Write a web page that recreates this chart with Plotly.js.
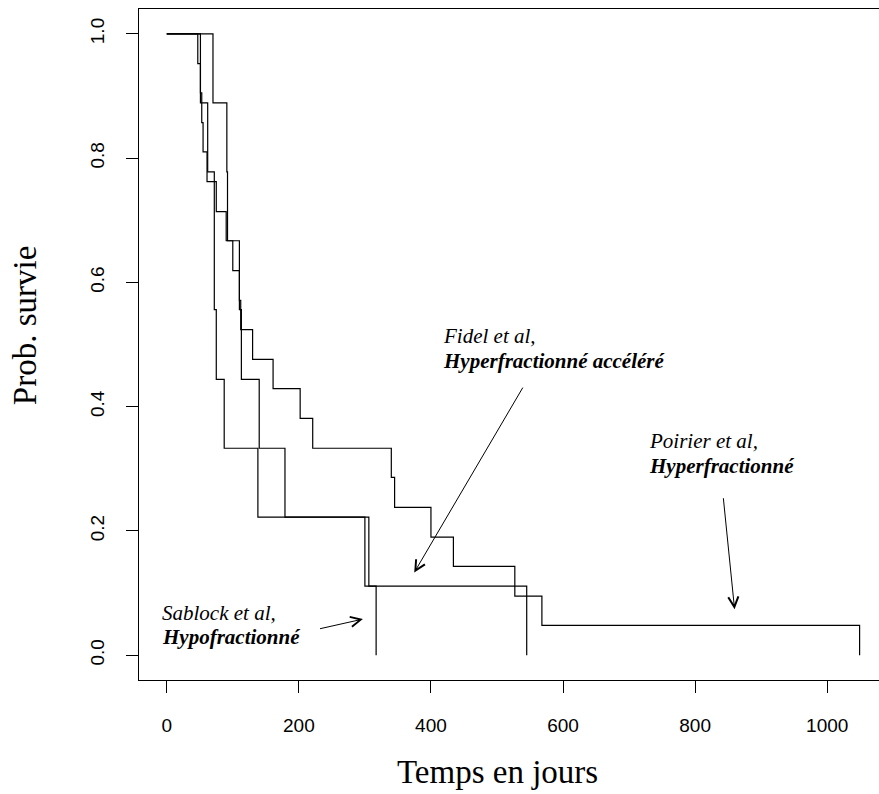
<!DOCTYPE html>
<html>
<head>
<meta charset="utf-8">
<script src="https://cdn.plot.ly/plotly-3.0.1.min.js"></script>
<style>
html, body { margin: 0; padding: 0; overflow: hidden; background: #fff; }
#chart { width: 890px; height: 794px; }
</style>
</head>
<body>
<div id="chart"></div>
<script>
// Kaplan-Meier curves
const poirierTimes = [0, 47, 51, 53, 55, 61, 75, 90, 100, 110, 112, 130, 161, 202, 221, 340, 345, 400, 434, 527, 568, 1049];
const poirierSurv  = [1, 0.952, 0.905, 0.857, 0.810, 0.762, 0.714, 0.667, 0.619, 0.571, 0.524, 0.476, 0.429, 0.381, 0.333, 0.286, 0.238, 0.190, 0.143, 0.095, 0.048, 0];

const sablockTimes = [0, 51, 62, 72, 75, 87, 138, 300, 317];
const sablockSurv  = [1, 0.889, 0.778, 0.556, 0.444, 0.333, 0.222, 0.111, 0];

const fidelTimes = [0, 70, 91, 92, 110, 113, 140, 179, 306, 545];
const fidelSurv  = [1, 0.889, 0.778, 0.667, 0.556, 0.444, 0.333, 0.222, 0.111, 0];

const xTicks = [0, 200, 400, 600, 800, 1000];
const yTicks = [0, 0.2, 0.4, 0.6, 0.8, 1.0];
const yTickLabels = ["0.0", "0.2", "0.4", "0.6", "0.8", "1.0"];

const xTitle = "Temps en jours";
const yTitle = "Prob. survie";

const labels = [
  {study: "Fidel et al,", scheme: "Hyperfractionné accéléré", x: 415.5, y1: 0.513, y2: 0.473},
  {study: "Poirier et al,", scheme: "Hyperfractionné", x: 727.5, y1: 0.344, y2: 0.304},
  {study: "Sablock et al,", scheme: "Hypofractionné", x: -9.5, y1: 0.068, y2: 0.029}
];
const arrows = [
  {tx: 540.4, ty: 0.433, hx: 374.7, hy: 0.133},
  {tx: 842.5, ty: 0.255, hx: 859.7, hy: 0.074},
  {tx: 229.8, ty: 0.042, hx: 297.0, hy: 0.058}
];

const lineStyle = {color: "#000", width: 1.2, shape: "hv"};
const traces = [
  {x: poirierTimes, y: poirierSurv, name: "Poirier", mode: "lines", line: lineStyle, hoverinfo: "skip"},
  {x: sablockTimes, y: sablockSurv, name: "Sablock", mode: "lines", line: lineStyle, hoverinfo: "skip"},
  {x: fidelTimes, y: fidelSurv, name: "Fidel", mode: "lines", line: lineStyle, hoverinfo: "skip"}
];

const serif = "Liberation Serif, Times New Roman, serif";
const sans = "Liberation Sans, Arial, sans-serif";

const annotations = [];
labels.forEach(l => {
  annotations.push({xref: "x", yref: "y", x: l.x, y: l.y1, text: "<i>" + l.study + "</i>",
    showarrow: false, xanchor: "left", yanchor: "middle", font: {family: serif, size: 21, color: "#000"}});
  annotations.push({xref: "x", yref: "y", x: l.x, y: l.y2, text: "<b><i>" + l.scheme + "</i></b>",
    showarrow: false, xanchor: "left", yanchor: "middle", font: {family: serif, size: 21, color: "#000"}});
});
arrows.forEach(a => {
  annotations.push({xref: "x", yref: "y", axref: "x", ayref: "y", x: a.hx, y: a.hy, ax: a.tx, ay: a.ty,
    text: "", showarrow: true, arrowhead: 5, arrowsize: 2, arrowwidth: 1, arrowcolor: "#000", standoff: 0, startstandoff: 0});
});
annotations.push({xref: "paper", yref: "paper", x: 0.4793, y: -0.137, text: xTitle, showarrow: false,
  xanchor: "center", yanchor: "middle", font: {family: serif, size: 33, color: "#000"}});
annotations.push({xref: "paper", yref: "paper", x: -0.152, y: 0.529, text: yTitle, showarrow: false, textangle: -90,
  xanchor: "center", yanchor: "middle", font: {family: serif, size: 33, color: "#000"}});

const layout = {
  width: 890, height: 794,
  margin: {l: 139, r: 2, t: 9, b: 114},
  paper_bgcolor: "#fff", plot_bgcolor: "#fff",
  showlegend: false,
  xaxis: {
    range: [-42, 1092], tickvals: xTicks, ticktext: xTicks.map(String),
    ticks: "outside", ticklen: 12, tickwidth: 1, tickcolor: "#000",
    showline: true, linecolor: "#000", linewidth: 1, mirror: true,
    showgrid: false, zeroline: false, ticklabelstandoff: 16,
    tickfont: {family: sans, size: 19, color: "#000"}
  },
  yaxis: {
    range: [-0.04, 1.04], tickvals: yTicks, ticktext: yTickLabels,
    ticks: "outside", ticklen: 12, tickwidth: 1, tickcolor: "#000", tickangle: -90,
    showline: true, linecolor: "#000", linewidth: 1, mirror: true,
    showgrid: false, zeroline: false, ticklabelstandoff: 14,
    tickfont: {family: sans, size: 19, color: "#000"}
  },
  annotations: annotations
};

Plotly.newPlot("chart", traces, layout, {staticPlot: true, displayModeBar: false});
</script>
</body>
</html>
